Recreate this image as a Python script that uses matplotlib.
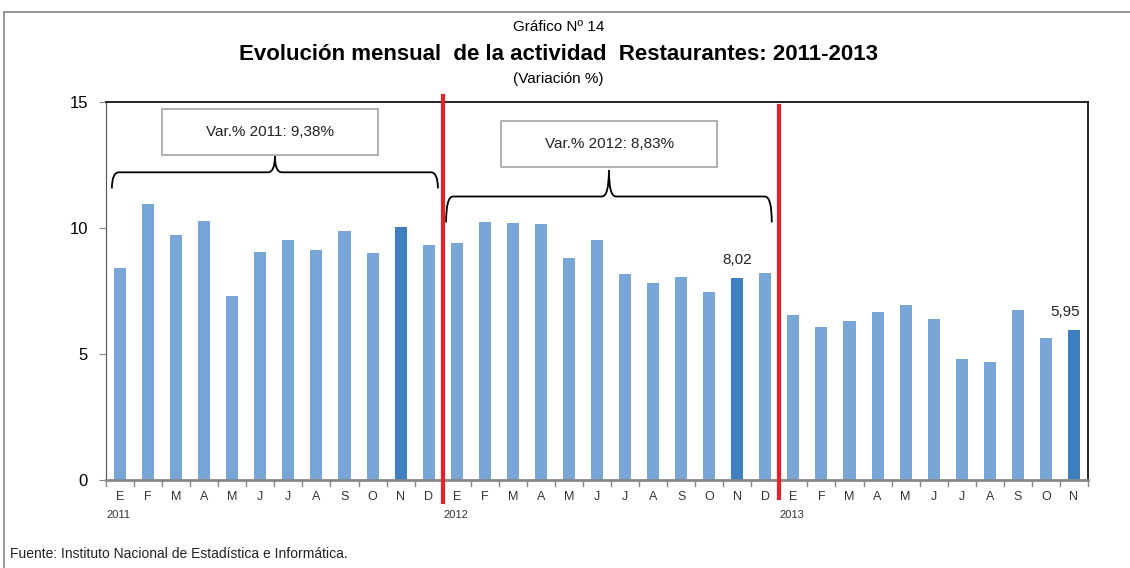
import numpy as np
import matplotlib.pyplot as plt
from matplotlib.patches import Rectangle
from matplotlib.path import Path
from matplotlib.patches import PathPatch

plt.rcParams['font.family'] = ['Liberation Sans Narrow', 'Liberation Sans', 'DejaVu Sans']

months = ["E", "F", "M", "A", "M", "J", "J", "A", "S", "O", "N", "D"]
labels = months * 2 + months[:11]
years = ["2011", "2012", "2013"]
values = [8.42, 10.96, 9.73, 10.27, 7.29, 9.04, 9.54, 9.13, 9.87, 9.01, 10.05, 9.33,
          9.41, 10.25, 10.21, 10.15, 8.81, 9.54, 8.18, 7.82, 8.07, 7.45, 8.02, 8.23,
          6.55, 6.08, 6.29, 6.68, 6.95, 6.39, 4.80, 4.68, 6.75, 5.63, 5.95]
highlight = [10, 22, 34]
box_texts = ["Var.% 2011: 9,38%", "Var.% 2012: 8,83%"]

light = "#78a6d7"
dark = "#3d7fc1"

fig = plt.figure(figsize=(11.3, 5.68), dpi=100)
ax = fig.add_axes([106 / 1130, 1 - 480 / 568, 982 / 1130, 378 / 568])

x = np.arange(len(values))
colors = [dark if i in highlight else light for i in x]
ax.bar(x, values, width=0.43, color=colors, zorder=2)

ax.set_xlim(-0.5, len(values) - 0.5)
ax.set_ylim(0, 15)
ax.set_yticks([0, 5, 10, 15])
ax.tick_params(axis="y", labelsize=12, length=5, color="#888888", pad=8)
ax.set_xticks(x)
ax.set_xticklabels(labels, fontsize=9, color="#333333")
ax.tick_params(axis="x", length=0, pad=8)
# boundary ticks
for b in np.arange(-0.5, len(values), 1.0):
    ax.plot([b, b], [0, -0.22], color="#888888", lw=1, clip_on=False)

for s in ["top", "right"]:
    ax.spines[s].set_color("black")
    ax.spines[s].set_linewidth(1.2)
ax.spines["left"].set_color("#555555")
ax.spines["bottom"].set_color("#888888")
ax.spines["bottom"].set_linewidth(2)

# year labels
for k, yr in enumerate(years):
    ax.text(12 * k - 0.48, -1.2, yr, fontsize=8, color="#333333", ha="left", va="top")

# red separators
ax.plot([11.5, 11.5], [-0.87, 15.23], color="#e8202a", lw=3, clip_on=False, zorder=5)
ax.plot([23.5, 23.5], [-0.72, 14.83], color="#e8202a", lw=3, clip_on=False, zorder=5)

# value labels
for i in [22, 34]:
    ax.text(x[i] - (0.3 if i == 34 else 0), values[i] + 0.45, f"{values[i]:.2f}".replace(".", ","),
            ha="center", va="bottom", fontsize=11, color="#222222")


def brace(x0, x1, y_tip, y_mid, y_peak):
    xm = (x0 + x1) / 2
    r = 0.25
    verts = [(x0, y_tip), (x0, y_mid), (x0 + r, y_mid),
             (xm - r, y_mid), (xm, y_mid), (xm, y_peak),
             (xm, y_mid), (xm + r, y_mid),
             (x1 - r, y_mid), (x1, y_mid), (x1, y_tip)]
    codes = [Path.MOVETO, Path.CURVE3, Path.CURVE3,
             Path.LINETO, Path.CURVE3, Path.CURVE3,
             Path.CURVE3, Path.CURVE3,
             Path.LINETO, Path.CURVE3, Path.CURVE3]
    ax.add_patch(PathPatch(Path(verts, codes), fill=False, lw=1.3, color="black", zorder=4))


brace(-0.29, 11.33, 11.57, 12.21, 12.84)
brace(11.62, 23.23, 10.22, 11.25, 12.29)

# text boxes
for (cx, cy), txt in zip([(5.33, 13.80), (17.43, 13.32)], box_texts):
    ax.add_patch(Rectangle((cx - 3.85, cy - 0.91), 7.7, 1.82, fill=False,
                           edgecolor="#aaaaaa", lw=1.3, zorder=4))
    ax.text(cx, cy, txt, ha="center", va="center", fontsize=11, color="#222222")

# titles
fig.text(0.494, 1 - 27 / 568, "Gráfico Nº 14", ha="center", va="center", fontsize=11)
fig.text(0.494, 1 - 54 / 568, "Evolución mensual  de la actividad  Restaurantes: 2011-2013",
         ha="center", va="center", fontsize=16, fontweight="bold")
fig.text(0.494, 1 - 79 / 568, "(Variación %)", ha="center", va="center", fontsize=11)
fig.text(10 / 1130, 1 - 554 / 568, "Fuente: Instituto Nacional de Estadística e Informática.",
         ha="left", va="center", fontsize=10, color="#222222")

# outer frame
fig.add_artist(Rectangle((4 / 1130, -0.01), 1.1, 1 - 12 / 568 + 0.01, transform=fig.transFigure,
                         fill=False, edgecolor="#999999", lw=1.5))

fig.savefig("out.png", dpi=100)
